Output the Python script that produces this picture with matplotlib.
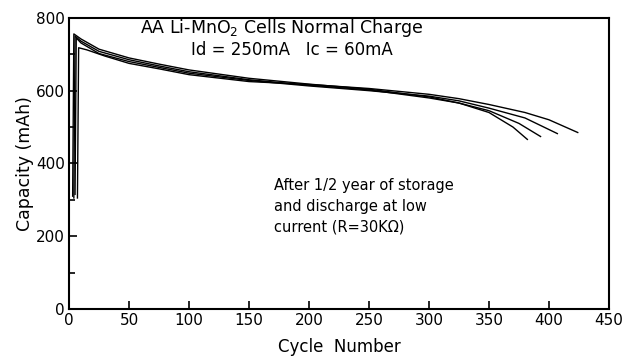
import matplotlib
matplotlib.use("Agg")
import matplotlib.pyplot as plt
from matplotlib.ticker import MultipleLocator

# capacity vs cycle for four AA Li-MnO2 cells
c1_cycle = [3, 4, 10, 25, 50, 75, 100, 150, 200, 250, 300, 325, 350, 370, 382]
c1_cap = [310, 756, 742, 714, 690, 673, 657, 634, 618, 604, 583, 566, 540, 500, 466]

c2_cycle = [4, 5, 10, 25, 50, 75, 100, 150, 200, 250, 300, 325, 350, 375, 393]
c2_cap = [305, 750, 736, 708, 685, 668, 652, 630, 615, 602, 580, 566, 545, 510, 474]

c3_cycle = [5, 6, 10, 25, 50, 75, 100, 150, 200, 250, 300, 325, 350, 380, 407]
c3_cap = [315, 745, 731, 702, 680, 664, 648, 628, 613, 600, 585, 572, 552, 525, 482]

c4_cycle = [7, 8, 15, 30, 50, 75, 100, 150, 200, 250, 300, 325, 350, 380, 400, 424]
c4_cap = [305, 718, 712, 695, 675, 660, 644, 625, 617, 606, 590, 578, 562, 540, 520, 485]

fig = plt.figure(figsize=(6.22, 3.58), dpi=100)
ax = fig.add_axes([0.111, 0.137, 0.868, 0.813])

for xs, ys in [(c1_cycle, c1_cap), (c2_cycle, c2_cap),
               (c3_cycle, c3_cap), (c4_cycle, c4_cap)]:
    ax.plot(xs, ys, color="black", linewidth=1.0)

ax.set_xlim(0, 450)
ax.set_ylim(0, 800)
ax.xaxis.set_major_locator(MultipleLocator(50))
ax.yaxis.set_major_locator(MultipleLocator(200))
ax.yaxis.set_minor_locator(MultipleLocator(100))
ax.tick_params(which="both", direction="in", labelsize=11, width=1.2, pad=3)
ax.tick_params(which="major", length=6)
ax.tick_params(which="minor", length=4)
for s in ax.spines.values():
    s.set_linewidth(1.5)

ax.set_xlabel("Cycle  Number", fontsize=12, labelpad=7)
ax.set_ylabel("Capacity (mAh)", fontsize=12.5, labelpad=1)

# headline text inside the frame
ax.text(177, 772, "AA Li-MnO$_2$ Cells Normal Charge", fontsize=12.5,
        ha="center", va="center")
ax.text(186, 711, "Id = 250mA   Ic = 60mA", fontsize=12,
        ha="center", va="center")

# note on storage conditions
ax.text(171, 360, "After 1/2 year of storage\nand discharge at low\ncurrent (R=30K\u03a9)",
        fontsize=10.5, ha="left", va="top", linespacing=1.5)

fig.savefig("out.png", dpi=100)
